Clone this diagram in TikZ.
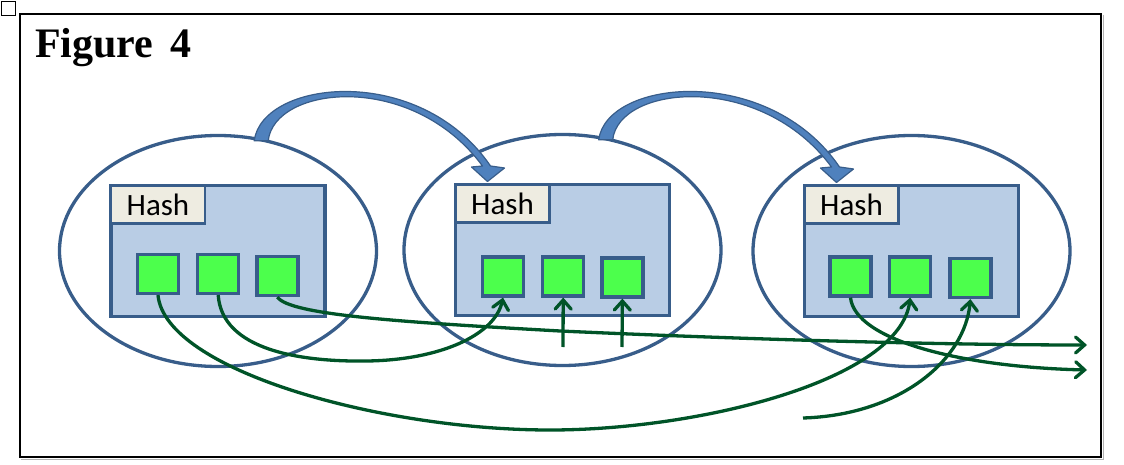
\documentclass[tikz,border=0pt]{standalone}
\usepackage{fontspec}
\setmainfont{Liberation Serif}
\newfontfamily\calibri{Carlito}
\usepackage{tikz}
\usetikzlibrary{positioning, arrows.meta, shapes.geometric, calc}

\definecolor{ringblue}{RGB}{56,93,138}
\definecolor{tablefill}{RGB}{185,205,229}
\definecolor{hashfill}{RGB}{238,236,225}
\definecolor{cellgreen}{RGB}{76,255,76}
\definecolor{linkgreen}{RGB}{0,84,40}
\definecolor{flowblue}{RGB}{79,129,189}

\tikzset{
	tablering/.style={ellipse, draw=ringblue, line width=3.3pt, minimum width=317pt, minimum height=231pt},
	bucket/.style={draw=ringblue, fill=tablefill, line width=3.5pt, outer sep=0pt, minimum width=214pt, minimum height=131pt},
	hashbox/.style={draw=ringblue, fill=hashfill, line width=2.8pt, outer sep=0pt, inner sep=0pt, minimum width=94pt, minimum height=38pt, anchor=north west, font=\calibri\fontsize{31}{36}\selectfont},
	cell/.style={draw=ringblue, fill=cellgreen, line width=3.2pt, minimum width=41pt, minimum height=39pt, inner sep=0pt},
	link/.style={draw=linkgreen, line width=3.3pt},
	linkarrow/.style={link, -{Straight Barb[length=9pt, width=16pt, line cap=round]}},
	flow/.style={fill=flowblue, draw=ringblue, line width=1.2pt, line join=round}
}

\begin{document}
\begin{tikzpicture}[x=1pt, y=-1pt]
	\useasboundingbox (0,0) rectangle (1124,465);
	\draw[line width=0.8pt] (1,1) rectangle (15,15);
	\draw[gray!60, line width=1pt] (21,459) -- (1103,459) -- (1103,15);
	\draw[line width=2pt] (20,14) rectangle (1101,457);
	\node[anchor=base west, inner sep=0pt, font=\bfseries\fontsize{42}{48}\selectfont] (title) at (35,58) {Figure\hspace{17pt}4};

	% the three tables
	\node[tablering] (e1) at (218,251) {};
	\node[tablering] (e2) at (562.5,250) {};
	\node[tablering] (e3) at (911.5,251) {};
	\node[bucket] (r1) at (e1) {};
	\node[bucket] (r2) at (e2) {};
	\node[bucket] (r3) at (e3) {};
	\node[hashbox] (h1) at (r1.north west) {Hash};
	\node[hashbox] (h2) at (r2.north west) {Hash};
	\node[hashbox] (h3) at (r3.north west) {Hash};

	\node[cell] (a1) at (158,274) {};
	\node[cell, right=16pt of a1] (a2) {};
	\node[cell, right=15pt of a2, yshift=-2pt] (a3) {};
	\node[cell] (b1) at (503,276.5) {};
	\node[cell, right=16pt of b1] (b2) {};
	\node[cell, right=15pt of b2, yshift=-1pt] (b3) {};
	\node[cell] (c1) at (850.5,276.5) {};
	\node[cell, right=15.5pt of c1] (c2) {};
	\node[cell, right=16pt of c2, yshift=-1.5pt] (c3) {};

	% big curved arrows
	\foreach \s/\t in {e1/h2, e2/h3}
		\filldraw[flow] ($(\s.70)+(-5,3)$) .. controls ($(\s.70)+(3,-58)$) and ($(\t.north)+(-83,-122.5)$) .. ($(\t.north)+(-12,-18.5)$)
			-- ($(\t.north)+(2,-16.5)$) -- ($(\t.north)+(-15,-3)$) -- ($(\t.north)+(-31,-17.5)$) -- ($(\t.north)+(-20,-18.5)$)
			.. controls ($(\t.north)+(-91,-114.5)$) and ($(\s.70)+(15,-52)$) .. ($(\s.70)+(9,3)$) -- cycle;

	% links between cells
	\coordinate (o1) at (1087,345);
	\coordinate (o2) at (1087,370);
	\coordinate (u1) at (563,347);
	\coordinate (u2) at (622,347);
	\coordinate (s1) at (803,418);
	\draw[linkarrow] (a1.south) .. controls (165,370) and (380,430) .. (550,430) .. controls (700,430) and (900,380) .. (c2.south);
	\draw[linkarrow] (a2.south) .. controls (222,350) and (300,362) .. (367,361) .. controls (440,360) and (495,335) .. (b1.south);
	\draw[linkarrow] (a3.south) .. controls (290,315) and (400,322) .. (560,331) .. controls (760,340) and (950,345) .. (o1);
	\draw[linkarrow] (u1) -- (b2.south);
	\draw[linkarrow] (u2) -- (b3.south);
	\draw[linkarrow] (c1.south) .. controls (855,340) and (960,367) .. (o2);
	\draw[linkarrow] (s1) .. controls (900,415) and (965,360) .. (c3.south);
\end{tikzpicture}
\end{document}
